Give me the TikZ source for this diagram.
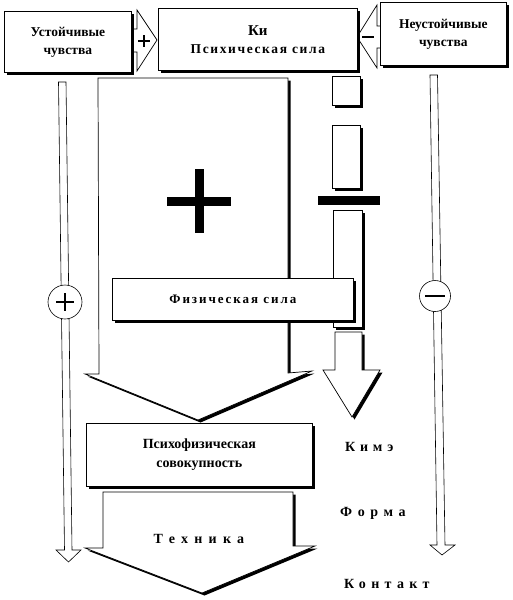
\documentclass[tikz,border=0pt]{standalone}
\usepackage{fontspec}
\setmainfont{Liberation Serif}
\usetikzlibrary{shadows}
\newcommand\lspaced[2]{{\addfontfeatures{LetterSpace=#1}#2}}
\begin{document}
\begin{tikzpicture}[x=1pt,y=-1pt,
  shd/.style={drop shadow={shadow xshift=2.5pt,shadow yshift=-2.5pt,fill=black,opacity=1}},
  box/.style={draw,fill=white,line width=0.7pt,shd,inner sep=0pt,anchor=north west,align=center,font=\bfseries\fontsize{13.5}{18}\selectfont},
  blk/.style={draw,fill=white,line width=0.7pt,line join=miter},
  thin/.style={draw,fill=white,line width=0.6pt},
  lbl/.style={font=\bfseries\fontsize{14}{16}\selectfont,anchor=west,inner sep=0pt}]
\useasboundingbox (0,0) rectangle (513,600);

% big Ki arrow
\path[blk,shd] (98,78) -- (288,78) -- (288,373) -- (312,371) -- (198,420) -- (85,374) -- (99,374) -- cycle;
% big plus
\fill (167,197) rectangle (231,206);
\fill (195,169) rectangle (204,233);

% right column
\path[blk,shd] (332,76) rectangle (360,105);
\path[blk,shd] (332,125) rectangle (360,188);
\fill (318,196) rectangle (380,205);
\path[blk,shd] (333,210) rectangle (362,327);
\path[blk,shd] (335,332) -- (362,332) -- (362,370) -- (380,370) -- (352,417) -- (323,370) -- (335,370) -- cycle;

% thin side arrows
\path[thin] (58.5,82) -- (66,82) -- (72,550) -- (81,550) -- (68.5,562) -- (56,550) -- (64.5,550) -- cycle;
\path[thin] (430,75) -- (437.5,75) -- (445,545) -- (455,545) -- (442,555) -- (430,545) -- (437,545) -- cycle;
\node[draw,fill=white,circle,line width=0.6pt,minimum size=34pt,inner sep=0pt] (pc) at (65,302) {};
\draw[line width=2.6pt] (pc.center) ++(-9,0) -- ++(18,0) (pc.center) ++(0,-9) -- ++(0,18);
\node[draw,fill=white,circle,line width=0.6pt,minimum size=31pt,inner sep=0pt] (mc) at (435,296) {};
\draw[line width=2.6pt] (mc.center) ++(-10,0) -- ++(20,0);

% top small arrows
\path[blk] (130,29) -- (137,29) -- (137,10) -- (157,40) -- (137,71) -- (137,52) -- (130,52) -- cycle;
\coordinate (plus) at (144,41);
\draw[line width=2.4pt] (plus) ++(-6,0) -- ++(12,0) (plus) ++(0,-6) -- ++(0,12);
\path[blk] (382,26) -- (377,26) -- (377,5) -- (357,37) -- (377,68) -- (377,48) -- (382,48) -- cycle;
\coordinate (minus) at (368,37);
\draw[line width=1.8pt] (minus) ++(-6,0) -- ++(12,0);

% top boxes
\node[box,minimum width=127pt,minimum height=61pt] (ust) at (4,11) {Устойчивые\\чувства};
\node[box,minimum width=199pt,minimum height=62pt] (ki) at (158,8) {{\fontsize{15}{18}\selectfont Ки}\\\lspaced{12}{Психическая сила}};
\node[box,minimum width=126pt,minimum height=63pt] (neu) at (380,2) {Неустойчивые\\чувства};

% physical force
\node[box,minimum width=241pt,minimum height=42pt,font=\bfseries\fontsize{13}{14}\selectfont] (fiz) at (112,278) {\lspaced{15}{Физическая сила}};

% Tekhnika arrow
\path[blk,shd] (103,492) -- (293,492) -- (293,546) -- (315,546) -- (202,593) -- (85,548) -- (103,548) -- cycle;
\node[font=\bfseries\fontsize{14}{16}\selectfont,inner sep=0pt] (tekh) at (199,539) {\lspaced{45}{Техника}};

% psychophysical
\node[box,minimum width=226pt,minimum height=63pt,font=\bfseries\fontsize{14}{19}\selectfont] (psf) at (86,423) {Психофизическая\\совокупность};

% labels
\node[lbl] (kime) at (345,447) {\lspaced{34}{Кимэ}};
\node[lbl] (forma) at (340,513) {\lspaced{40}{Форма}};
\node[lbl] (kont) at (344,584) {\lspaced{38}{Контакт}};
\end{tikzpicture}
\end{document}
